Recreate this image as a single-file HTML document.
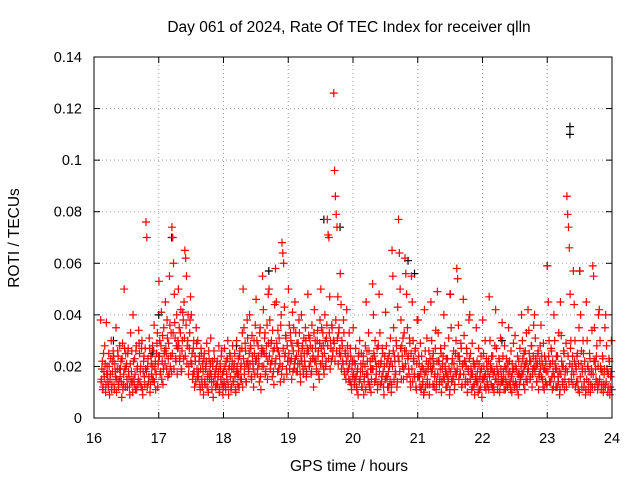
<!DOCTYPE html>
<html><head><meta charset="utf-8"><style>
body{margin:0;background:#fff}
svg text{font-family:"Liberation Sans",sans-serif;font-size:14.5px;fill:#000}
svg text.big{font-size:15.5px}
</style></head><body>
<svg id="chart" width="640" height="480" viewBox="0 0 640 480">
<rect width="640" height="480" fill="#fff"/>
<text class="big" x="349" y="32" text-anchor="middle">Day 061 of 2024, Rate Of TEC Index for receiver qlln</text>
<text class="big" x="349" y="471" text-anchor="middle">GPS time / hours</text>
<text class="big" transform="translate(19,238) rotate(-90)" text-anchor="middle">ROTI / TECUs</text>
<g id="grid"></g><g id="ticks"></g><g id="black"></g><g id="red"></g>
<rect x="94" y="57" width="518" height="361" fill="none" stroke="#000" stroke-width="1"/>
</svg>
<script>
const xTicks=[16,17,18,19,20,21,22,23,24];
const yTicks=[0,0.02,0.04,0.06,0.08,0.1,0.12,0.14];
const yTickLabels=["0","0.02","0.04","0.06","0.08","0.1","0.12","0.14"];
const binStarts=[16.1,16.2,16.3,16.4,16.5,16.6,16.7,16.8,16.9,17.0,17.1,17.2,17.3,17.4,17.5,17.6,17.7,17.8,17.9,18.0,18.1,18.2,18.3,18.4,18.5,18.6,18.7,18.8,18.9,19.0,19.1,19.2,19.3,19.4,19.5,19.6,19.7,19.8,19.9,20.0,20.1,20.2,20.3,20.4,20.5,20.6,20.7,20.8,20.9,21.0,21.1,21.2,21.3,21.4,21.5,21.6,21.7,21.8,21.9,22.0,22.1,22.2,22.3,22.4,22.5,22.6,22.7,22.8,22.9,23.0,23.1,23.2,23.3,23.4,23.5,23.6,23.7,23.8,23.9];
const rotiMilli=[
[38,15,22,12,18,28,10,37],[20,14,25,9,17,30,13,22],[24,11,18,35,15,26,12,19],[16,22,8,29,13,50,19,25],[21,12,27,16,9,33,18,14],[40,15,23,11,28,19,13,34],[25,18,12,30,9,22,16,27],[76,70,20,14,31,10,24,17],[28,15,36,19,11,25,33,21],[53,30,18,41,22,13,35,26],
[45,25,38,16,29,55,20,33],[74,70,60,48,31,22,40,27],[50,35,24,42,18,30,38,45],[65,62,55,28,40,20,33,47],[40,25,17,30,12,22,35,19],[30,18,24,11,27,15,21,9],[25,13,20,29,16,10,23,18],[31,14,22,8,26,17,12,20],[22,16,28,11,19,24,13,9],[18,27,12,22,15,30,9,20],
[24,11,19,28,14,21,16,10],[30,17,23,12,26,19,15,33],[50,35,20,26,14,38,22,18],[40,28,16,32,21,12,25,36],[46,30,19,24,14,35,11,27],[55,42,25,33,18,28,15,48],[50,38,21,30,16,26,13,44],[58,45,27,34,19,24,14,40],[68,64,60,43,25,31,17,22],[50,36,22,30,15,41,26,19],
[45,33,24,18,29,38,21,14],[40,27,19,31,22,35,16,25],[48,32,20,28,17,36,23,12],[42,30,22,18,34,26,15,38],[50,35,24,28,17,40,20,31],[77,71,70,47,30,22,35,26],[126,96,86,79,74,47,33,25],[56,44,30,22,38,18,26,15],[42,28,19,33,14,24,11,22],[35,22,15,27,12,18,9,25],
[30,18,25,12,21,9,16,28],[45,26,17,33,13,22,10,19],[52,40,24,30,15,20,11,28],[48,33,21,14,27,18,9,24],[41,28,16,23,12,20,31,10],[65,55,35,24,18,30,12,43],[77,64,50,38,28,20,15,33],[62,56,48,35,24,17,29,12],[55,45,30,22,16,27,11,38],[38,24,16,29,11,20,14,9],
[42,26,18,31,13,21,9,23],[45,30,19,25,12,17,34,14],[49,33,22,15,27,10,19,24],[40,28,18,23,12,16,31,9],[48,35,21,15,26,11,18,30],[58,54,36,24,17,29,12,20],[46,32,22,15,27,10,19,38],[40,25,17,29,12,21,9,15],[35,22,14,27,11,18,24,8],[38,25,16,30,11,20,13,22],
[47,30,19,24,12,17,10,28],[42,27,18,14,23,10,31,16],[37,24,15,28,11,19,13,21],[35,22,14,26,10,18,29,12],[32,20,13,24,9,17,27,15],[40,30,18,25,11,21,33,14],[42,34,22,16,28,12,19,36],[40,31,20,14,25,11,17,28],[36,24,15,29,11,19,22,13],[59,45,30,20,14,26,11,18],
[40,30,19,24,12,16,33,9],[45,32,20,14,26,11,18,29],[86,79,74,66,48,30,18,24],[57,44,30,20,14,25,11,35],[57,40,26,18,30,12,22,9],[45,30,20,14,25,10,17,34],[59,55,35,22,15,28,11,40],[42,30,19,13,24,10,17,35],[40,28,18,12,23,9,16,30]];
const rotiMilliB=[
[14,19,11,25,16,21,13,17],[17,12,20,15,23,11,18,26],[13,21,16,10,19,24,14,28],[19,14,23,11,17,27,12,20],[15,25,18,12,21,14,26,10],[22,13,17,26,11,20,15,29],[14,20,27,11,18,24,13,19],[18,12,23,16,27,13,21,15],[20,26,14,22,17,29,12,24],[24,17,28,15,32,19,25,21],
[27,19,31,23,17,36,24,18],[25,33,19,37,23,28,17,30],[28,22,33,19,26,41,23,31],[24,36,21,30,17,27,38,22],[21,15,27,18,24,14,29,16],[16,22,13,19,25,12,18,23],[14,19,22,12,17,26,15,21],[17,11,20,14,23,16,19,13],[13,18,10,21,15,26,17,12],[14,20,11,17,23,13,19,25],
[16,12,22,14,19,25,11,18],[20,13,17,24,15,21,27,12],[23,17,29,14,21,31,19,25],[21,27,15,24,19,30,17,22],[23,17,28,21,33,16,25,20],[26,20,31,17,24,36,22,29],[24,19,29,22,34,18,27,21],[23,29,18,26,31,21,36,17],[20,27,15,24,32,19,28,22],[25,19,33,23,28,18,35,21],
[23,18,29,21,26,33,17,24],[22,28,17,25,20,30,18,27],[26,20,31,22,18,27,24,33],[22,27,19,30,24,17,29,21],[27,21,33,19,25,30,22,36],[28,23,33,19,27,36,24,30],[29,22,38,26,31,21,35,27],[24,19,28,21,33,17,25,22],[18,24,15,21,27,13,19,16],[17,13,21,16,11,19,24,14],
[15,21,12,18,24,14,20,11],[17,22,14,26,12,19,15,23],[19,25,14,22,17,27,13,21],[18,13,22,16,25,12,20,15],[16,21,12,18,25,14,22,13],[20,26,15,22,17,28,14,24],[22,18,27,15,24,31,19,26],[21,26,16,23,19,31,14,25],[19,14,23,17,26,12,21,16],[16,21,12,18,24,13,19,10],
[17,12,22,15,19,26,13,20],[18,23,13,21,16,27,11,22],[17,22,13,19,25,14,21,16],[15,20,12,17,23,14,19,11],[18,14,23,16,21,13,25,17],[19,24,15,22,17,27,13,21],[17,22,13,20,25,14,18,23],[15,19,11,17,22,13,20,16],[14,18,10,21,16,12,19,15],[15,20,12,17,23,14,18,11],
[16,21,13,19,24,12,18,15],[15,20,11,17,22,13,19,14],[14,18,11,20,15,23,12,17],[13,18,11,16,21,14,19,12],[14,19,11,17,22,13,16,20],[17,23,13,20,26,15,22,18],[19,25,15,22,28,17,24,20],[18,23,14,21,26,16,22,19],[16,21,12,19,24,14,18,13],[18,24,14,21,27,16,22,12],
[16,21,12,19,24,14,18,11],[17,22,13,20,25,15,19,12],[18,24,14,21,27,15,20,13],[17,22,12,19,24,14,21,10],[16,21,12,19,25,14,18,11],[15,20,11,18,23,13,19,12],[17,22,12,19,24,14,20,13],[15,20,11,18,23,13,19,12],[14,19,10,17,22,12,18,11]];
const blackTimes=[16.3,17.0,17.2,18.7,19.55,19.8,20.85,20.95,21.5,23.0,23.35,23.35,23.5,22.3,16.9,18.2];
const blackValues=[0.030,0.040,0.070,0.057,0.077,0.074,0.061,0.056,0.048,0.059,0.113,0.110,0.057,0.030,0.025,0.028];
const NS="http://www.w3.org/2000/svg";
const X0=94,X1=612,Y0=418,Y1=57;
const xs=v=>X0+(v-16)/8*(X1-X0);
const ys=v=>Y0-v/0.14*(Y0-Y1);
function mk(t,a){const e=document.createElementNS(NS,t);for(const k in a)e.setAttribute(k,a[k]);return e;}
const grid=document.getElementById('grid'),ticks=document.getElementById('ticks');
xTicks.forEach(v=>{const x=xs(v);
 if(v>16&&v<24){const g=mk('line',{x1:x,x2:x,y1:Y0,y2:Y1,stroke:'#a0a0a0','stroke-dasharray':'1,3'});
 
 grid.appendChild(g);}
 ticks.appendChild(mk('line',{x1:x,x2:x,y1:Y0,y2:Y0-6,stroke:'#000'}));
 ticks.appendChild(mk('line',{x1:x,x2:x,y1:Y1,y2:Y1+6,stroke:'#000'}));
 const t=mk('text',{x:x,y:443,'text-anchor':'middle'});t.textContent=v;
 
 ticks.appendChild(t);});
yTicks.forEach((v,i)=>{const y=ys(v);
 if(v>0&&v<0.14){const g=mk('line',{x1:X0,x2:X1,y1:y,y2:y,stroke:'#a0a0a0','stroke-dasharray':'1,3'});
 
 grid.appendChild(g);}
 ticks.appendChild(mk('line',{x1:X0,x2:X0+6,y1:y,y2:y,stroke:'#000'}));
 ticks.appendChild(mk('line',{x1:X1,x2:X1-6,y1:y,y2:y,stroke:'#000'}));
 const t=mk('text',{x:82,y:y+5,'text-anchor':'end'});t.textContent=yTickLabels[i];
 
 ticks.appendChild(t);});
function plus(g,x,y,c,name){const p=mk('path',{d:`M${x-4},${y}h8M${x},${y-4}v8`,stroke:c,'stroke-width':1.2});
 
 g.appendChild(p);}
const bg=document.getElementById('black');
blackTimes.forEach((t,i)=>plus(bg,xs(t),ys(blackValues[i]),'#000','black-point'));
const rg=document.getElementById('red');
[rotiMilli,rotiMilliB].forEach((set,s)=>{
 binStarts.forEach((b,i)=>{const vals=set[i];vals.forEach((m,j)=>{
  const t=b+(j+0.25+0.5*s)*0.1/vals.length;plus(rg,xs(t),ys(m/1000),'#ff0000','roti-point');});});});
</script>
</body></html>
